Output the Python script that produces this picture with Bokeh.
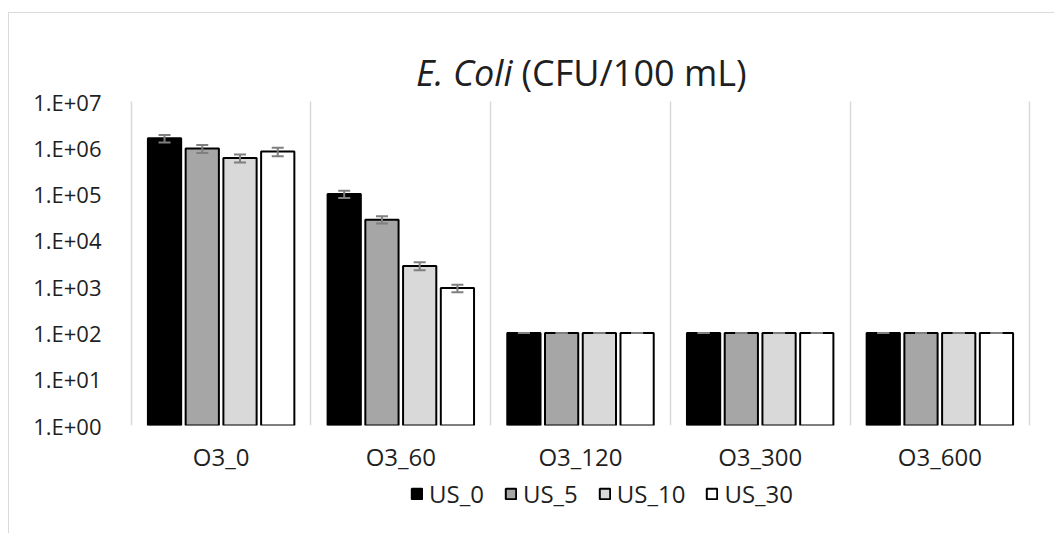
from bokeh.plotting import figure
from bokeh.layouts import column
from bokeh.models import (ColumnDataSource, Whisker, TeeHead, FixedTicker,
                          CustomJSTickFormatter, Legend, LegendItem, Label, Range1d)
from bokeh.embed import file_html
from bokeh.resources import INLINE

# Ozone exposure groups (x categories) and ultrasound series
treatments = ["O3_0", "O3_60", "O3_120", "O3_300", "O3_600"]
series = ["US_0", "US_5", "US_10", "US_30"]

# E. coli counts, CFU/100 mL
us_0 = [1.6e6, 1.0e5, 100, 100, 100]
us_5 = [9.6e5, 2.8e4, 100, 100, 100]
us_10 = [6.0e5, 2.8e3, 100, 100, 100]
us_30 = [8.3e5, 9.3e2, 100, 100, 100]

# standard deviations
err_us_0 = [3.0e5, 1.8e4, 0, 0, 0]
err_us_5 = [1.9e5, 5.0e3, 0, 0, 0]
err_us_10 = [1.2e5, 5.5e2, 0, 0, 0]
err_us_30 = [1.7e5, 1.7e2, 0, 0, 0]

y_ticks = [1, 10, 100, 1e3, 1e4, 1e5, 1e6, 1e7]

values = [us_0, us_5, us_10, us_30]
errors = [err_us_0, err_us_5, err_us_10, err_us_30]
fills = ["#000000", "#a6a6a6", "#d9d9d9", "#ffffff"]
offsets = [-0.315, -0.105, 0.105, 0.315]

TEXT = "#1f1f1f"
FONT = "Open Sans"
BAR = dict(line_color="#000000", line_width=2)

# main chart; the frame reaches up past 1E+07 so the title can sit inside it
y_top = 10 ** 8.534
p = figure(width=1045, height=462, x_range=Range1d(-0.01, 5.01),
           y_range=Range1d(1, y_top), y_axis_type="log",
           output_backend="svg", toolbar_location=None,
           min_border_left=120, min_border_right=23, min_border_top=17,
           min_border_bottom=50)
p.outline_line_color = None
p.background_fill_color = "white"
p.border_fill_color = "white"

for name, vals, errs, fill, off in zip(series, values, errors, fills, offsets):
    xs = [i + 0.5 + off for i in range(len(treatments))]
    src = ColumnDataSource(dict(
        x=xs, top=vals,
        upper=[v + e for v, e in zip(vals, errs)],
        lower=[v - e for v, e in zip(vals, errs)],
    ))
    p.vbar(x="x", top="top", bottom=1, width=0.185, source=src,
           fill_color=fill, **BAR)
    w = Whisker(base="x", upper="upper", lower="lower", source=src,
                line_color="#7f7f7f", line_width=2, level="annotation",
                upper_head=TeeHead(size=12, line_color="#7f7f7f", line_width=2),
                lower_head=TeeHead(size=12, line_color="#7f7f7f", line_width=2))
    p.add_layout(w)

# x axis: category names at group centres, separators between groups
p.xaxis.ticker = FixedTicker(ticks=[i + 0.5 for i in range(len(treatments))])
p.xaxis.formatter = CustomJSTickFormatter(args=dict(labels=treatments),
                                          code="return labels[Math.floor(tick)];")
p.xgrid.ticker = FixedTicker(ticks=list(range(len(treatments) + 1)))
p.xgrid.cross_bounds = (y_ticks[0], y_ticks[-1])
p.xgrid.grid_line_color = "#d9d9d9"
p.xgrid.grid_line_width = 1.5
p.ygrid.grid_line_color = None

p.yaxis.ticker = FixedTicker(ticks=y_ticks)
p.yaxis.formatter = CustomJSTickFormatter(code="""
const e = Math.round(Math.log10(tick));
return "1.E+" + String(e).padStart(2, "0");
""")

for ax in (p.xaxis[0], p.yaxis[0]):
    ax.axis_line_color = None
    ax.major_tick_line_color = None
    ax.minor_tick_line_color = None
    ax.major_label_text_font = FONT
    ax.major_label_text_color = TEXT
p.yaxis.major_label_text_font_size = "22px"
p.xaxis.major_label_text_font_size = "24px"
p.xaxis.major_label_standoff = 8
p.yaxis.major_label_standoff = 22

# title: italic organism name followed by the unit
title_y = 10 ** 7.62
p.add_layout(Label(x=2.1216, y=title_y, text="E. Coli", text_font=FONT,
                   text_font_style="italic", text_font_size="36px",
                   text_color=TEXT, text_align="right", text_baseline="middle"))
p.add_layout(Label(x=2.1716, y=title_y, text="(CFU/100 mL)", text_font=FONT,
                   text_font_size="36px", text_color=TEXT,
                   text_align="left", text_baseline="middle"))

# legend strip under the chart, keyed by the same bar styles
# (its frame is aligned with the chart's frame by the column layout)
lg = figure(width=1045, height=58, x_range=Range1d(0, 1), y_range=Range1d(0, 1),
            x_axis_type=None, y_axis_type=None, output_backend="svg",
            toolbar_location=None, min_border=0)
lg.outline_line_color = None
lg.grid.visible = False
lg.background_fill_color = "white"
lg.border_fill_color = "white"
items = []
for name, fill in zip(series, fills):
    # key-only renderers: a single NaN bar that never draws
    r = lg.vbar(x=[float("nan")], top=[float("nan")], bottom=0, width=0.1,
                fill_color=fill, **BAR)
    items.append(LegendItem(label=name, renderers=[r]))
legend = Legend(items=items, orientation="horizontal", location=(281, 23),
                padding=0, margin=0, spacing=20, label_standoff=6,
                glyph_width=13, glyph_height=13, label_height=20,
                label_text_font=FONT, label_text_font_size="24px",
                label_text_color=TEXT, border_line_color=None,
                background_fill_alpha=0)
lg.add_layout(legend, "center")

layout = column(p, lg, spacing=0)
layout.styles = {"margin-left": "8px", "margin-top": "12px",
                 "border-left": "1px solid #d9d9d9", "border-top": "1px solid #d9d9d9"}

open("out.html", "w").write(file_html(layout, INLINE))
